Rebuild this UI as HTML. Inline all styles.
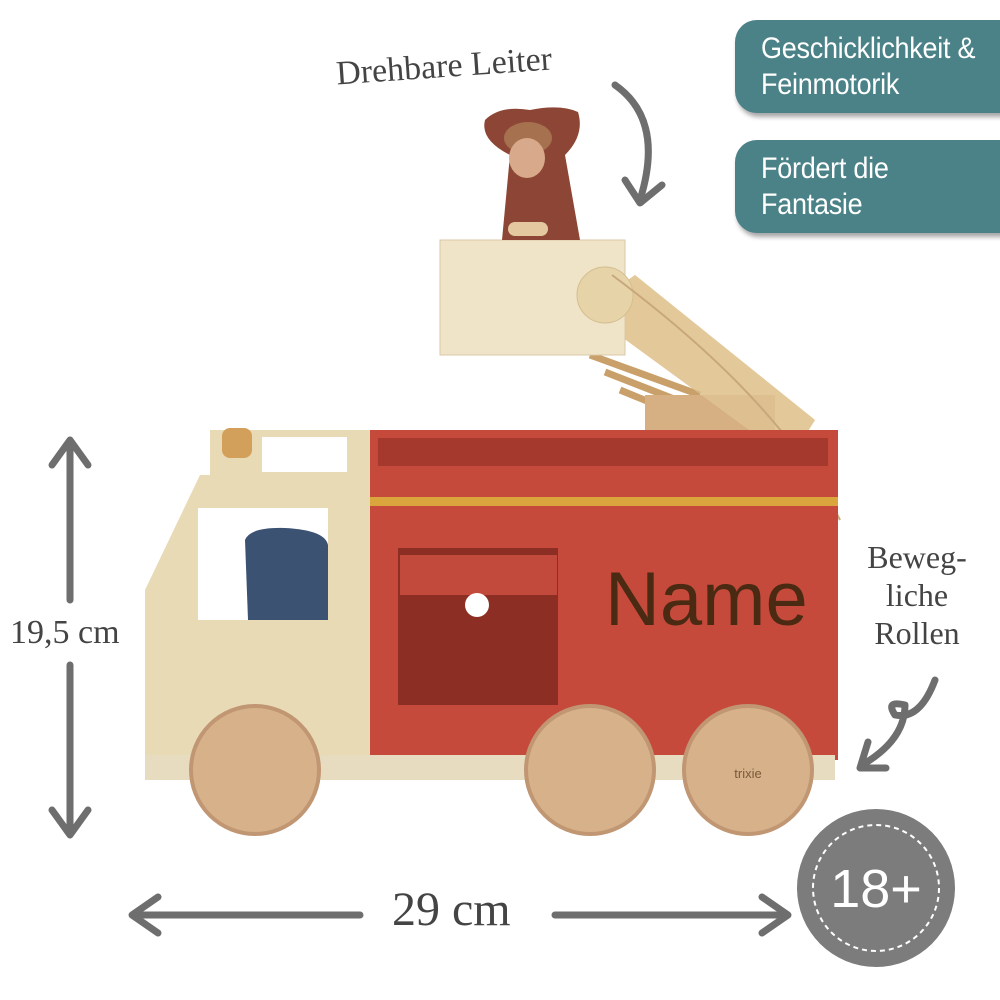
<!DOCTYPE html>
<html><head><meta charset="utf-8"><style>
body{margin:0;background:#fff;width:1000px;height:1000px;overflow:hidden;position:relative}
.b{position:absolute;left:735px;width:275px;height:93px;background:#4a8287;border-radius:22px 0 0 22px;box-shadow:2px 4px 5px rgba(0,0,0,.35);color:#fff;font-family:"Liberation Sans",sans-serif;font-size:30px;line-height:36px;box-sizing:border-box;padding:11px 0 0 26px;letter-spacing:-0.3px}
.b span{display:inline-block;transform:scaleX(.9);transform-origin:left}
.s{position:absolute;font-family:"Liberation Serif",serif;color:#444}
</style></head><body>
<div class="b" style="top:20px"><span>Geschicklichkeit &amp;<br>Feinmotorik</span></div>
<div class="b" style="top:140px"><span>Fördert die<br>Fantasie</span></div>
<div class="s" style="left:336px;top:48px;font-size:34px;transform:rotate(-4deg)">Drehbare Leiter</div>
<div class="s" style="left:10px;top:614px;font-size:34px">19,5 cm</div>
<div class="s" style="left:392px;top:882px;font-size:48px">29 cm</div>
<div class="s" style="left:852px;top:538px;font-size:32px;line-height:38px;text-align:center;width:130px">Beweg-<br>liche<br>Rollen</div>
<svg width="1000" height="1000" style="position:absolute;left:0;top:0">
<g fill="none" stroke="#6e6e6e" stroke-width="7" stroke-linecap="round" stroke-linejoin="round">
<path d="M615 85 Q665 120 640 200"/><path d="M625 180 L640 203 L662 185"/>
<path d="M70 445 L70 600"/><path d="M70 665 L70 830"/>
<path d="M52 465 L70 440 L88 465"/><path d="M52 810 L70 835 L88 810"/>
<path d="M135 915 L360 915"/><path d="M555 915 L785 915"/>
<path d="M158 897 L132 915 L158 933"/><path d="M762 897 L788 915 L762 933"/>
<path d="M935 680 Q920 720 895 715 Q885 700 905 705 Q905 740 862 765"/><path d="M868 742 L860 768 L886 768"/>
</g>
<circle cx="876" cy="888" r="79" fill="#7c7c7c"/>
<circle cx="876" cy="888" r="63" fill="none" stroke="#fff" stroke-width="2" stroke-dasharray="5 4"/>
<text x="876" y="907" text-anchor="middle" font-family="Liberation Sans,sans-serif" font-size="54" fill="#fff">18+</text>
<!-- ladder -->
<polygon points="585,310 635,275 815,420 790,460" fill="#e3c99a"/>
<g stroke="#c9a06a" stroke-width="7"><line x1="590" y1="355" x2="700" y2="395"/><line x1="605" y1="372" x2="715" y2="415"/><line x1="620" y1="390" x2="730" y2="435"/></g>
<rect x="645" y="395" width="130" height="75" fill="#d6b083"/>
<polygon points="585,310 635,275 815,420 790,460" fill="#e3c99a" opacity=".6"/>
<rect x="440" y="240" width="185" height="115" fill="#efe4c8" stroke="#d8c9a5"/>
<circle cx="605" cy="295" r="28" fill="#e7d3a8" stroke="#d4bd90"/>
<path d="M612 275 Q780 400 840 520" fill="none" stroke="#c8a77c" stroke-width="2"/>
<!-- monkey -->
<path d="M485 120 Q500 105 530 110 Q560 104 578 112 Q585 135 565 155 L580 240 L502 240 L510 155 Q480 140 485 120Z" fill="#8d4636"/>
<ellipse cx="528" cy="138" rx="24" ry="16" fill="#a5714f"/>
<ellipse cx="527" cy="158" rx="18" ry="20" fill="#d8a98a"/>
<rect x="508" y="222" width="40" height="14" rx="7" fill="#e4c9a0"/>
<!-- red box -->
<rect x="368" y="430" width="470" height="330" fill="#c64a3c"/>
<rect x="378" y="438" width="450" height="28" fill="#a6392d"/>
<rect x="368" y="497" width="470" height="9" fill="#d9a53c"/>
<rect x="398" y="548" width="160" height="157" fill="#8d2e25"/>
<rect x="400" y="555" width="157" height="40" fill="#c24a3c"/>
<circle cx="477" cy="605" r="12" fill="#fff"/>
<text x="605" y="625" font-family="Liberation Sans,sans-serif" font-size="76" fill="#4a2a12">Name</text>
<!-- cab -->
<polygon points="145,590 200,475 370,475 370,780 145,780" fill="#e9dab6"/>
<rect x="210" y="430" width="160" height="45" fill="#e9dab6"/>
<rect x="262" y="437" width="85" height="35" fill="#fff"/>
<rect x="222" y="428" width="30" height="30" rx="8" fill="#d3a05c"/>
<rect x="198" y="508" width="130" height="112" fill="#fff"/>
<path d="M245 540 Q250 527 285 528 Q325 530 328 545 L328 620 L248 620Z" fill="#3c5273"/>
<rect x="145" y="755" width="690" height="25" fill="#e8dcc0"/>
<!-- wheels -->
<g fill="#d7b18a" stroke="#c09673" stroke-width="4">
<circle cx="255" cy="770" r="64"/><circle cx="590" cy="770" r="64"/><circle cx="748" cy="770" r="64"/></g>
<text x="748" y="778" text-anchor="middle" font-family="Liberation Sans,sans-serif" font-size="13" fill="#7a5a3a">trixie</text>
</svg>
</body></html>
